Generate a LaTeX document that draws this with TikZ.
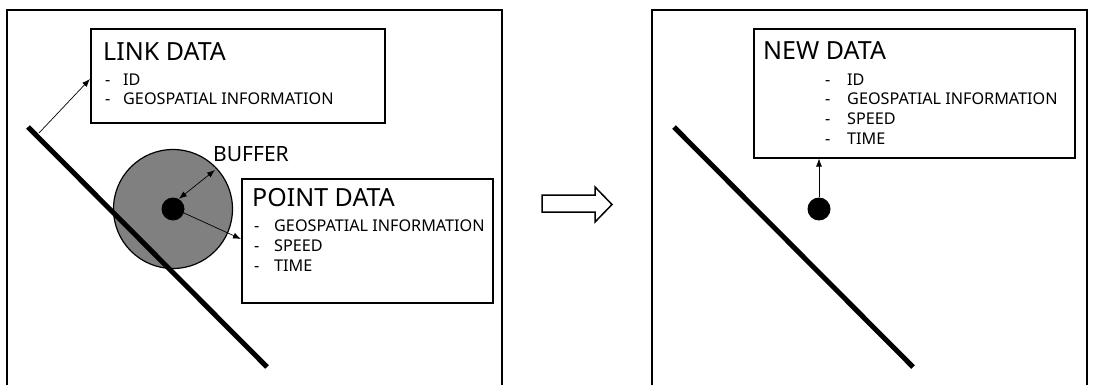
\documentclass[tikz,border=0pt]{standalone}
\usepackage{fontspec}
\setmainfont{Noto Sans}
\usetikzlibrary{arrows.meta}

\tikzset{
  frame/.style={line width=1.8pt},
  databox/.style={draw, line width=1.6pt, anchor=north west, inner sep=0pt},
  road/.style={line width=5pt},
  conn/.style={line width=0.7pt, -{Latex[length=8pt,width=6pt]}},
  twoway/.style={line width=0.7pt, {Latex[length=8pt,width=6pt]}-{Latex[length=8pt,width=6pt]}},
  title/.style={anchor=base west, inner sep=0pt, font=\fontsize{25}{28}\selectfont},
  item/.style={anchor=base west, inner sep=0pt, font=\fontsize{16.2}{20}\selectfont},
  dot/.style={circle, fill=black, minimum size=23pt, inner sep=0pt},
}

\begin{document}
\begin{tikzpicture}[x=1pt,y=-1pt]
\useasboundingbox (0,0) rectangle (1098,385);
\clip (0,0) rectangle (1098,385);

% ---------- left panel: before matching ----------
\draw[frame] (7,390) -- (7,10) -- (502,10) -- (502,390);

\coordinate (roadA1) at (28,127);
\coordinate (roadA2) at (267,367);

% buffer around the GPS point
\node[circle, draw, line width=1.2pt, fill=black!50, minimum size=119pt, inner sep=0pt] (buffer) at (173,209) {};
\draw[road] (roadA1) -- (roadA2);
\node[dot] (ptA) at (173,209) {};

\node[databox, minimum width=294pt, minimum height=94pt] (link) at (90,28) {};
\node[title] (linkT) at (103,61) {LINK DATA};
\node[item] (linkD1) at (105,85.5) {-};
\node[item] (linkI1) at (123,85.5) {ID};
\node[item] (linkD2) at (105,104.5) {-};
\node[item] (linkI2) at (123,104.5) {GEOSPATIAL INFORMATION};

\node[databox, minimum width=251pt, minimum height=124pt] (point) at (241,178) {};
\node[title] (pointT) at (252,207) {POINT DATA};
\node[item] (pointD1) at (254,231.5) {-};
\node[item] (pointI1) at (274,231.5) {GEOSPATIAL INFORMATION};
\node[item] (pointD2) at (254,251.5) {-};
\node[item] (pointI2) at (274,251.5) {SPEED};
\node[item] (pointD3) at (254,271.5) {-};
\node[item] (pointI3) at (274,271.5) {TIME};

\node[anchor=base west, inner sep=0pt, font=\fontsize{21}{24}\selectfont] (bufT) at (213,162) {BUFFER};

\coordinate (linkFoot) at (39,133);
\coordinate (bufEdge) at (215,170);
\draw[conn] (linkFoot) -- (link.west |- 0,79) coordinate (linkTip);
\draw[twoway] (ptA.60) -- (bufEdge);
\draw[conn] (ptA.-20) -- (point.west |- 0,239);

% ---------- transition arrow ----------
\draw[line width=1.5pt, fill=white]
  (542,195) -- (595,195) -- (595,187) -- (612,204.5) -- (595,222) -- (595,212) -- (542,212) -- cycle;

% ---------- right panel: after matching ----------
\draw[frame] (652,390) -- (652,10) -- (1087,10) -- (1087,390);

\coordinate (roadB1) at (674,127);
\coordinate (roadB2) at (913,367);
\draw[road] (roadB1) -- (roadB2);
\node[dot] (ptB) at (819,209) {};

\node[databox, minimum width=321pt, minimum height=129pt] (new) at (753,28) {};
\node[title] (newT) at (763,60) {NEW DATA};
\node[item] (newD1) at (825,85.5) {-};
\node[item] (newI1) at (847,85.5) {ID};
\node[item] (newD2) at (825,104.5) {-};
\node[item] (newI2) at (847,104.5) {GEOSPATIAL INFORMATION};
\node[item] (newD3) at (825,124.5) {-};
\node[item] (newI3) at (847,124.5) {SPEED};
\node[item] (newD4) at (825,144.5) {-};
\node[item] (newI4) at (847,144.5) {TIME};

\draw[conn] (ptB.north) -- (ptB.north |- new.south);
\end{tikzpicture}
\end{document}
